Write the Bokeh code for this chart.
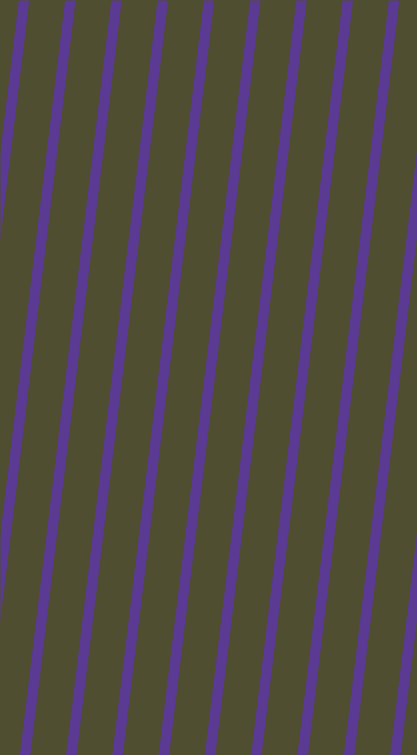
from bokeh.plotting import figure
from bokeh.models import Range1d
from bokeh.embed import file_html
from bokeh.resources import INLINE

# Stripe centre positions (x, px) where each stripe meets the top edge
stripe_top_x = [-22.8, 23.5, 69.8, 116.0, 162.3, 208.5, 254.8, 301.0, 347.3, 393.6, 440.0, 486.3]
# Horizontal drift of each stripe per pixel of height (stripes lean left going down)
lean = 0.1212
stripe_width = 10.4
bg_color = "#4F4E30"
stripe_color = "#5B3A94"

W, H = 417, 755

p = figure(width=W, height=H, output_backend="svg", toolbar_location=None,
           x_range=Range1d(0, W), y_range=Range1d(H, 0),
           min_border=0, min_border_left=0, min_border_right=0,
           min_border_top=0, min_border_bottom=0)
p.axis.visible = False
p.grid.visible = False
p.outline_line_color = None
p.background_fill_color = bg_color
p.border_fill_color = bg_color

y0 = [-30.0] * len(stripe_top_x)
y1 = [H + 30.0] * len(stripe_top_x)
x0 = [x - lean * a for x, a in zip(stripe_top_x, y0)]
x1 = [x - lean * b for x, b in zip(stripe_top_x, y1)]
p.segment(x0=x0, y0=y0, x1=x1, y1=y1, line_color=stripe_color,
          line_width=stripe_width, line_cap="butt")

tmpl = """{% block postamble %}<style>html,body{margin:0;padding:0;overflow:hidden;background:#4F4E30;}</style>{% endblock %}"""
open("out.html", "w").write(file_html(p, INLINE, template=tmpl))
